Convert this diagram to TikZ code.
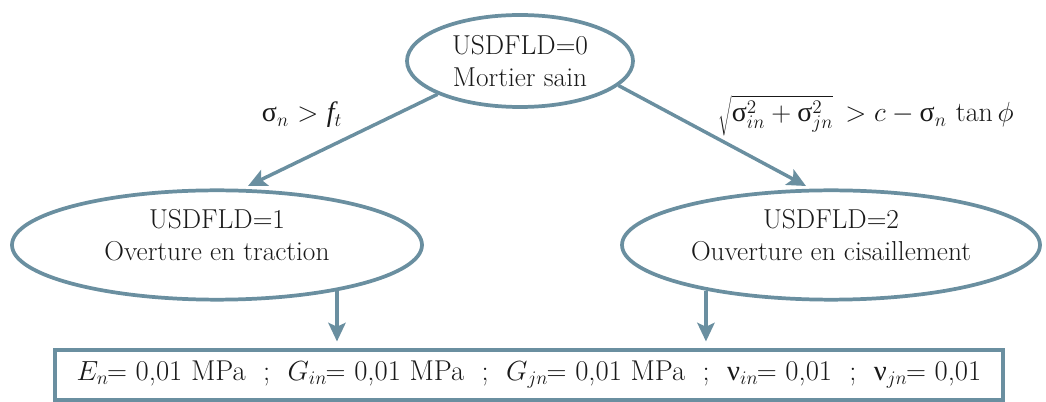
\documentclass[tikz,border=0pt]{standalone}
\usepackage{fontspec}
\newfontfamily\tms{Liberation Serif}
\usetikzlibrary{arrows.meta,shapes.geometric}
\definecolor{edge}{RGB}{106,143,160}
\definecolor{ink}{RGB}{25,25,25}
\tikzset{
  state/.style={ellipse,draw=edge,line width=2.8pt,inner sep=0pt,text=ink,align=center,font=\fontsize{20.5}{24}\selectfont},
  arr/.style={draw=edge,line width=2.6pt,-{Stealth[length=14pt,width=13pt,inset=3pt]}},
  lbl/.style={text=ink,font=\fontsize{21}{24}\selectfont},
  param/.style={rectangle,draw=edge,line width=2.8pt,inner sep=0pt,text=ink,font=\fontsize{21.5}{24}\selectfont}
}
\begin{document}
\begin{tikzpicture}[x=0.75pt,y=-0.75pt]
\useasboundingbox (0,0) rectangle (1046,402);
\node[state,minimum width=169.5pt,minimum height=69pt] (top) at (520,61) {USDFLD=0\\Mortier sain};
\node[state,minimum width=307.5pt,minimum height=82pt] (left) at (217,245) {USDFLD=1\\Overture en traction\\[-9pt]\mbox{}};
\node[state,minimum width=313.5pt,minimum height=82pt] (right) at (831,245) {USDFLD=2\\Ouverture en cisaillement\\[-9pt]\mbox{}};
\node[param,minimum width=711pt,minimum height=37.5pt] (box) at (529,375)
  {$E_{n}\!\!=$ 0,01 MPa ~;~ $G_{in}\!\!=$ 0,01 MPa ~;~ $G_{jn}\!\!=$ 0,01 MPa ~;~ {\tms ν}$_{in}\!\!=$ 0,01 ~;~ {\tms ν}$_{jn}\!\!=$ 0,01};
\coordinate (tipL) at (248,186);
\coordinate (tipR) at (806,186);
\draw[arr] (top.202) -- (tipL);
\draw[arr] (top.346) -- (tipR);
\draw[arr,shorten >=5pt] (left.339.6) -- (left.339.6 |- box.north);
\draw[arr,shorten >=5pt] (right.200.6) -- (right.200.6 |- box.north);
\node[lbl] (lab1) at (302,115) {{\tms σ}$_{n}$ $>$ {\tms\itshape f}$_{t}$};
\node[lbl] (lab2) at (866,116) {$\sqrt{\vphantom{\Big|}\mbox{\tms σ}^{2}_{in}+\mbox{\tms σ}^{2}_{jn}}\,>c-\mbox{\tms σ}_{n}\,\tan\phi$};
\end{tikzpicture}
\end{document}
